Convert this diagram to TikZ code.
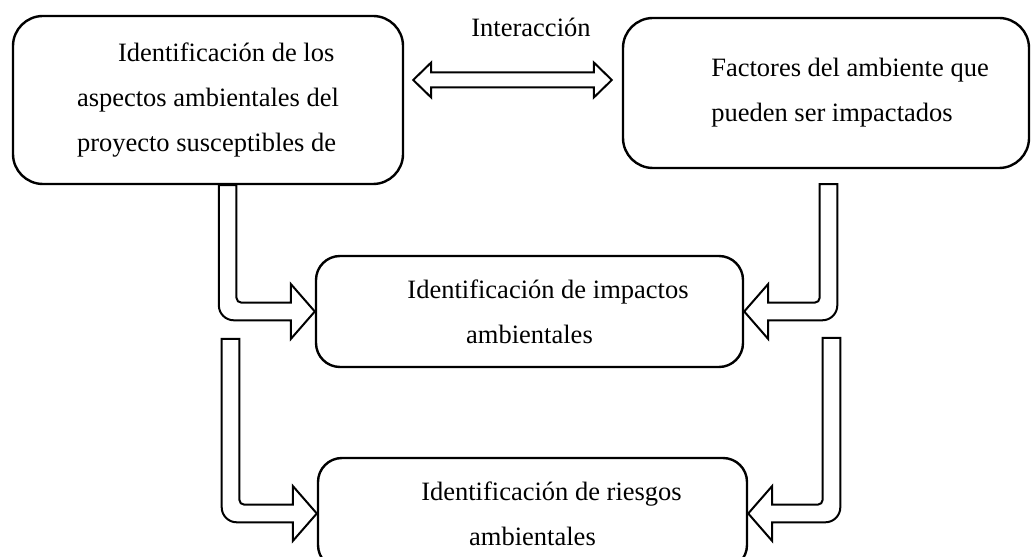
\documentclass[tikz,border=0pt]{standalone}
\usepackage{fontspec}
\setmainfont{Liberation Serif}
\usetikzlibrary{calc}

% bent block arrow: #1 top of the shaft, #2 tip, #3 = 1 points right, -1 points left
\newcommand{\elbowarrow}[3]{%
  \draw[blockarrow] let \p1=#1, \p2=#2 in
    ({\x1-(#3)*4.4pt},\y1)
    -- ({\x1-(#3)*4.4pt},{\y2+3.1pt})
    arc[start angle={90+90*(#3)}, end angle={90+180*(#3)}, radius=7.5pt]
    -- ({\x2-(#3)*12pt},{\y2-4.4pt})
    -- ({\x2-(#3)*12pt},{\y2-13.75pt})
    -- (\x2,\y2)
    -- ({\x2-(#3)*12pt},{\y2+13.75pt})
    -- ({\x2-(#3)*12pt},{\y2+4.4pt})
    -- ({\x1+(#3)*6.9pt},{\y2+4.4pt})
    arc[start angle={90+180*(#3)}, end angle={90+90*(#3)}, radius=2.5pt]
    -- ({\x1+(#3)*4.4pt},\y1) -- cycle;}

\begin{document}
\begin{tikzpicture}[
		x=0.5pt, y=0.5pt,
		font=\fontsize{13.25}{22.5}\selectfont,
		box/.style={draw, line width=1.2pt, rounded corners=12pt, inner sep=0pt},
		blockarrow/.style={draw, fill=white, line width=1pt, line join=miter}
	]
	\useasboundingbox (0,0) rectangle (1031,556);

	% boxes
	\node[box, rounded corners=15pt, minimum width=195pt, minimum height=84pt, align=left] (aspects) at (208,456)
		{\hspace*{20.5pt}Identificación de los\\aspectos ambientales del\\proyecto susceptibles de};
	\node[box, rounded corners=15pt, minimum width=203pt, minimum height=75pt, align=left] (factors) at (826,463)
		{\hspace*{24pt}Factores del ambiente que\\\hspace*{24pt}pueden ser impactados};
	\node[box, minimum width=213.5pt, minimum height=55.5pt, align=center] (impact) at (529.5,244.5)
		{\hspace*{18.5pt}Identificación de impactos\\ambientales};
	\node[box, minimum width=214.5pt, minimum height=55.5pt, align=center] (risk) at (532.5,42.5)
		{\hspace*{19pt}Identificación de riesgos\\ambientales};

	\node (inter) at (531,529) {Interacción};

	% two-headed arrow between the upper boxes
	\draw[blockarrow] let \p1=([xshift=4.5pt,yshift=10pt]aspects.east), \p2=([xshift=-5pt]factors.west) in
		(\x1,\y1) -- ({\x1+9pt},{\y1+8.75pt}) -- ({\x1+9pt},{\y1+3.75pt})
		-- ({\x2-9pt},{\y1+3.75pt}) -- ({\x2-9pt},{\y1+8.75pt}) -- (\x2,\y1)
		-- ({\x2-9pt},{\y1-8.75pt}) -- ({\x2-9pt},{\y1-3.75pt})
		-- ({\x1+9pt},{\y1-3.75pt}) -- ({\x1+9pt},{\y1-8.75pt}) -- cycle;

	% bent arrows
	\coordinate (lowstart) at (230.5,217);
	\coordinate (rowstart) at (831.5,218);
	\elbowarrow{($(aspects.south west)!0.55!(aspects.south east)$)}{(impact.west)}{1}
	\elbowarrow{([xshift=1.25pt,yshift=-7.5pt]factors.south)}{(impact.east)}{-1}
	\elbowarrow{(lowstart)}{(risk.west)}{1}
	\elbowarrow{(rowstart)}{(risk.east)}{-1}
\end{tikzpicture}
\end{document}
